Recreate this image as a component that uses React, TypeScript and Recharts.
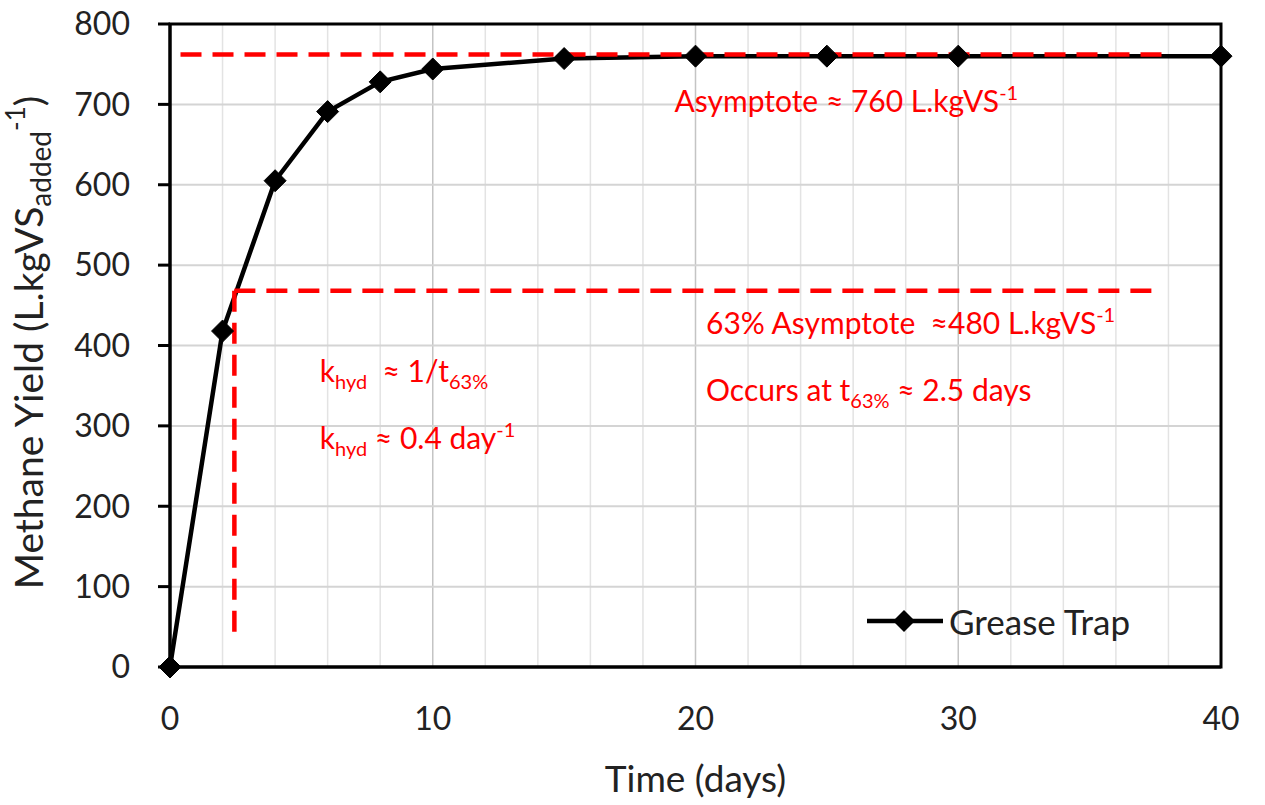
import React from 'react';
import {
  ComposedChart, Line, XAxis, YAxis, CartesianGrid, ReferenceLine, ReferenceArea,
  ReferenceDot, Legend,
} from 'recharts';

const days = [0, 2, 4, 6, 8, 10, 15, 20, 25, 30, 40];
const yields = [0, 418, 605, 691, 728, 744, 757, 760, 760, 760, 760];
const xTicks = [0, 10, 20, 30, 40];
const yTicks = [0, 100, 200, 300, 400, 500, 600, 700, 800];
const xMinorGrid = [2, 4, 6, 8, 12, 14, 16, 18, 22, 24, 26, 28, 32, 34, 36, 38];
const xMajorGrid = [10, 20, 30];
const yGrid = [100, 200, 300, 400, 500, 600, 700];

const asymptote = 762;
const asymptoteStart = 0.4;
const asymptoteEnd = 38;
const y63 = 468;
const t63 = 2.45;
const t63End = 37.5;
const t63Bottom = 37;

const data = days.map((d, i) => ({ day: d, yield: yields[i] }));

const FONT = 'Lato, "Open Sans", sans-serif';
const RED = '#ff0000';
const NOTE_SIZE = 30;
const SMALL = 20;

const Diamond = (props: any) => {
  const { cx, cy, index } = props;
  if (cx == null || cy == null) return null;
  const h = 11;
  return (
    <path
      key={`d-${index}`}
      d={`M${cx},${cy - h} L${cx + h},${cy} L${cx},${cy + h} L${cx - h},${cy} Z`}
      fill="#000"
      stroke="#000"
    />
  );
};

const makeNote = (parts: React.ReactNode) => (props: any) => {
  const vb = props.viewBox || {};
  const x = (vb.x ?? 0) + (vb.width ?? 0) / 2;
  const y = (vb.y ?? 0) + (vb.height ?? 0) / 2;
  return (
    <text x={x} y={y} fill={RED} fontSize={NOTE_SIZE} fontFamily={FONT} style={{ whiteSpace: 'pre' }}>
      {parts}
    </text>
  );
};

const notes = [
  {
    x: 19.2, y: 690,
    parts: [
      <tspan key="a">Asymptote ≈ 760 L.kgVS</tspan>,
      <tspan key="b" fontSize={SMALL} dy={-12}>-1</tspan>,
    ],
  },
  {
    x: 20.4, y: 414,
    parts: [
      <tspan key="a">63% Asymptote  ≈480 L.kgVS</tspan>,
      <tspan key="b" fontSize={SMALL} dy={-12}>-1</tspan>,
    ],
  },
  {
    x: 20.4, y: 331,
    parts: [
      <tspan key="a">Occurs at t</tspan>,
      <tspan key="b" fontSize={SMALL} dy={7}>63%</tspan>,
      <tspan key="c" dy={-7}> ≈ 2.5 days</tspan>,
    ],
  },
  {
    x: 5.7, y: 355,
    parts: [
      <tspan key="a">k</tspan>,
      <tspan key="b" fontSize={SMALL} dy={7}>hyd</tspan>,
      <tspan key="c" dy={-7}>  ≈ 1/t</tspan>,
      <tspan key="d" fontSize={SMALL} dy={7}>63%</tspan>,
    ],
  },
  {
    x: 5.7, y: 271,
    parts: [
      <tspan key="a">k</tspan>,
      <tspan key="b" fontSize={SMALL} dy={7}>hyd</tspan>,
      <tspan key="c" dy={-7}> ≈ 0.4 day</tspan>,
      <tspan key="d" fontSize={SMALL} dy={-12}>-1</tspan>,
    ],
  },
];

const YLabel = (props: any) => {
  const vb = props.viewBox;
  const x = vb.x + 43;
  const y = vb.y + vb.height / 2 - 3;
  return (
    <text x={x} y={y} transform={`rotate(-90, ${x}, ${y})`} textAnchor="middle" fill="#222" fontSize={39} fontFamily={FONT}>
      <tspan>Methane Yield (L.kgVS</tspan>
      <tspan fontSize={28} dy={8}>added</tspan>
      <tspan fontSize={26} dy={-26}>-1</tspan>
      <tspan dy={18}>)</tspan>
    </text>
  );
};

const XLabel = (props: any) => {
  const vb = props.viewBox;
  return (
    <text x={vb.x + vb.width / 2} y={vb.y + 125} textAnchor="middle" fill="#222" fontSize={37} fontFamily={FONT}>
      Time (days)
    </text>
  );
};

const LegendContent = () => (
  <div style={{ display: 'flex', alignItems: 'center', height: 40, fontFamily: FONT }}>
    <svg width={76} height={30}>
      <line x1={0} y1={15} x2={76} y2={15} stroke="#000" strokeWidth={4.5} />
      <path d="M37,4 L48,15 L37,26 L26,15 Z" fill="#000" />
    </svg>
    <span style={{ marginLeft: 6, fontSize: 35, color: '#222', whiteSpace: 'nowrap' }}>Grease Trap</span>
  </div>
);

export default function App() {
  return (
    <div style={{ position: 'absolute', left: 0, top: 0, width: 1265, height: 805, background: '#fff' }}>
      <ComposedChart
        width={1265}
        height={805}
        data={data}
        margin={{ top: 24, right: 44, bottom: 0, left: 0 }}
      >
        <CartesianGrid horizontal={false} vertical verticalValues={xMinorGrid} stroke="#e3e3e3" strokeWidth={1.5} />
        <CartesianGrid horizontal={false} vertical verticalValues={xMajorGrid} stroke="#c4c4c4" strokeWidth={1.5} />
        <CartesianGrid horizontal vertical={false} horizontalValues={yGrid} stroke="#d4d4d4" strokeWidth={2} />
        <XAxis
          dataKey="day"
          type="number"
          domain={[0, 40]}
          ticks={xTicks}
          interval={0}
          height={138}
          tickLine={false}
          tickSize={0}
          tickMargin={40}
          axisLine={{ stroke: '#000', strokeWidth: 3 }}
          tick={{ fill: '#222', fontSize: 32, fontFamily: FONT }}
          label={{ content: XLabel }}
        />
        <YAxis
          type="number"
          domain={[0, 800]}
          ticks={yTicks}
          interval={0}
          width={170}
          tickSize={12}
          tickMargin={28}
          axisLine={{ stroke: '#000', strokeWidth: 3 }}
          tickLine={{ stroke: '#000', strokeWidth: 3 }}
          tick={{ fill: '#222', fontSize: 32, fontFamily: FONT }}
          label={{ content: YLabel }}
        />
        <ReferenceArea x1={0} x2={40} y1={0} y2={800} fill="none" stroke="#000" strokeWidth={3} />
        <Line
          dataKey="yield"
          stroke="#000"
          strokeWidth={4.5}
          dot={Diamond}
          activeDot={false}
          isAnimationActive={false}
        />
        <ReferenceLine
          segment={[{ x: asymptoteStart, y: asymptote }, { x: asymptoteEnd, y: asymptote }]}
          stroke={RED}
          strokeWidth={4.5}
          strokeDasharray="21 11"
        />
        <ReferenceLine
          segment={[{ x: t63, y: y63 }, { x: t63End, y: y63 }]}
          stroke={RED}
          strokeWidth={4.5}
          strokeDasharray="21 11"
        />
        <ReferenceLine
          segment={[{ x: t63, y: y63 }, { x: t63, y: t63Bottom }]}
          stroke={RED}
          strokeWidth={4.5}
          strokeDasharray="21 11"
        />
        {notes.map((n, i) => (
          <ReferenceDot key={i} x={n.x} y={n.y} r={0} fill="none" stroke="none" label={{ content: makeNote(n.parts) }} />
        ))}
        <Legend
          layout="vertical"
          align="center"
          verticalAlign="middle"
          content={LegendContent}
          wrapperStyle={{ position: 'absolute', left: 867, top: 601, width: 330, height: 40 }}
        />
      </ComposedChart>
    </div>
  );
}
